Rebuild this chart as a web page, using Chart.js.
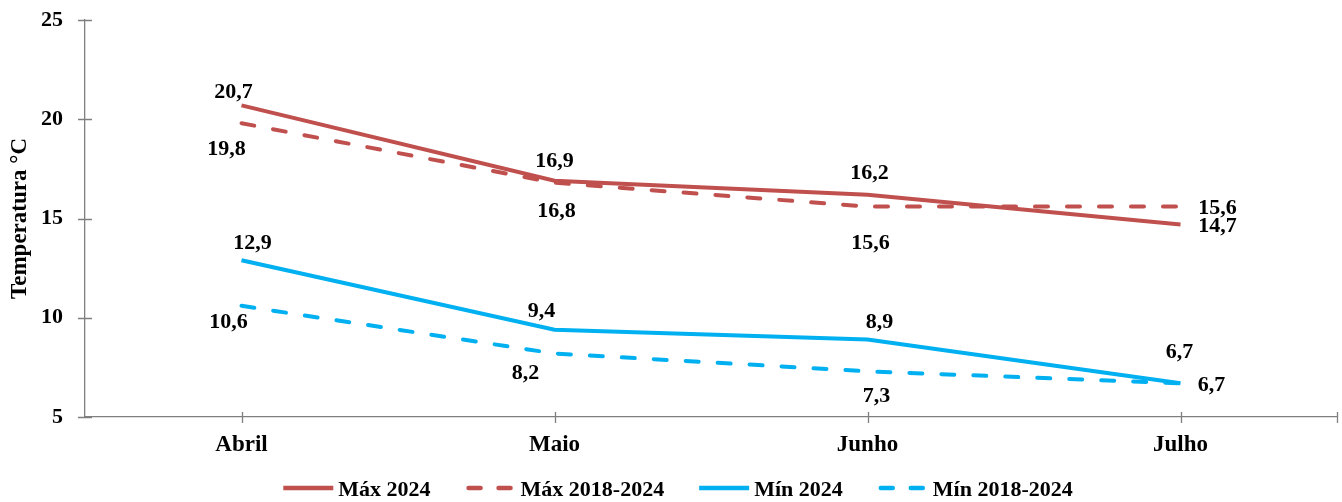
<!DOCTYPE html>
<html>
<head>
<meta charset="utf-8">
<script src="https://cdn.jsdelivr.net/npm/chart.js@4/dist/chart.umd.min.js"></script>
<style>
  html, body { margin: 0; padding: 0; background: #ffffff; }
  #wrap { width: 1342px; height: 502px; position: relative; }
</style>
</head>
<body>
<div id="wrap"><canvas id="chart" width="1342" height="502"></canvas></div>
<script>
// Monthly temperatures (°C), April–July
const months = ['Abril', 'Maio', 'Junho', 'Julho'];
const max2024 = [20.7, 16.9, 16.2, 14.7];
const maxAvg = [19.8, 16.8, 15.6, 15.6];
const min2024 = [12.9, 9.4, 8.9, 6.7];
const minAvg = [10.6, 8.2, 7.3, 6.7];
const yTicks = [5, 10, 15, 20, 25];

const RED = '#C0504D';
const BLUE = '#00B0F0';
const AXIS = '#7f7f7f';
const FONT = "'Liberation Serif', 'Times New Roman', serif";

function fmt(v) { return v.toFixed(1).replace('.', ','); }

// value label offsets (px) relative to each point
const labelOffsets = [
  [[-8, -15], [0, -21], [2, -23], [37, 0]],
  [[-15, 24], [2, 27], [3, 35], [37, 0]],
  [[11, -19], [-13, -20], [12, -19], [-1, -33]],
  [[-13, 15], [-29, 18], [9, 23], [31, 0]]
];

const valueLabels = {
  id: 'valueLabels',
  afterDatasetsDraw(chart) {
    const ctx = chart.ctx;
    ctx.save();
    ctx.font = 'bold 22px ' + FONT;
    ctx.fillStyle = '#000';
    ctx.textAlign = 'center';
    ctx.textBaseline = 'alphabetic';
    chart.data.datasets.forEach((ds, di) => {
      const meta = chart.getDatasetMeta(di);
      meta.data.forEach((pt, i) => {
        const off = labelOffsets[di][i];
        ctx.fillText(fmt(ds.data[i]), pt.x + off[0], pt.y + off[1] + 7.5);
      });
    });
    ctx.restore();
  }
};

// axis tick marks crossing the axis lines, plus the closing tick at the right end
const axisTicks = {
  id: 'axisTicks',
  afterDraw(chart) {
    const ctx = chart.ctx;
    const xs = chart.scales.x, ys = chart.scales.y;
    const area = chart.chartArea;
    ctx.save();
    ctx.strokeStyle = AXIS;
    ctx.lineWidth = 1.3;
    ctx.beginPath();
    yTicks.forEach(v => {
      const y = Math.round(ys.getPixelForValue(v)) + 0.5;
      ctx.moveTo(area.left - 7, y);
      ctx.lineTo(area.left + 7, y);
    });
    const xt = months.map((m, i) => xs.getPixelForValue(i));
    xt.push(area.right);
    xt.forEach(x => {
      const px = Math.round(x) + 0.5;
      ctx.moveTo(px, area.bottom - 5);
      ctx.lineTo(px, area.bottom + 6);
    });
    ctx.stroke();
    ctx.restore();
  }
};

// legend row under the category labels
const bottomLegend = {
  id: 'bottomLegend',
  afterDraw(chart) {
    const ctx = chart.ctx;
    const lineLen = 50, gap = 5, itemGap = 35, y = 488;
    ctx.save();
    ctx.font = 'bold 22px ' + FONT;
    const items = chart.data.datasets.map(ds => ({
      ds, w: lineLen + gap + ctx.measureText(ds.label).width
    }));
    const total = items.reduce((s, it) => s + it.w, 0) + itemGap * (items.length - 1);
    let x = 678 - total / 2;
    items.forEach(it => {
      ctx.beginPath();
      ctx.strokeStyle = it.ds.borderColor;
      ctx.lineWidth = 4.5;
      ctx.lineCap = it.ds.borderDash ? 'round' : 'butt';
      ctx.setLineDash(it.ds.borderDash ? [12, 18] : []);
      ctx.moveTo(x + (it.ds.borderDash ? 3 : 0), y);
      ctx.lineTo(x + lineLen, y);
      ctx.stroke();
      ctx.setLineDash([]);
      ctx.fillStyle = '#000';
      ctx.textAlign = 'left';
      ctx.textBaseline = 'alphabetic';
      ctx.fillText(it.ds.label, x + lineLen + gap, y + 7.5);
      x += it.w + itemGap;
    });
    ctx.restore();
  }
};

const dashed = [13, 19];

new Chart(document.getElementById('chart'), {
  type: 'line',
  data: {
    labels: months,
    datasets: [
      { label: 'Máx 2024', data: max2024, borderColor: RED, backgroundColor: RED, borderWidth: 4 },
      { label: 'Máx 2018-2024', data: maxAvg, borderColor: RED, backgroundColor: RED, borderWidth: 4,
        borderDash: dashed, borderCapStyle: 'round' },
      { label: 'Mín 2024', data: min2024, borderColor: BLUE, backgroundColor: BLUE, borderWidth: 4 },
      { label: 'Mín 2018-2024', data: minAvg, borderColor: BLUE, backgroundColor: BLUE, borderWidth: 4,
        borderDash: dashed, borderCapStyle: 'round' }
    ]
  },
  options: {
    responsive: false,
    animation: false,
    devicePixelRatio: 1,
    layout: { padding: { left: 0, right: 5, top: 20, bottom: 0 } },
    elements: { point: { radius: 0, hoverRadius: 0 }, line: { tension: 0, fill: false } },
    plugins: { legend: { display: false }, tooltip: { enabled: false } },
    scales: {
      x: {
        offset: true,
        grid: { display: false, drawTicks: true, tickLength: 14 },
        border: { display: true, color: AXIS, width: 1.3 },
        ticks: { color: '#000', padding: 0, font: { family: FONT, size: 23, weight: 'bold' } },
        afterFit(scale) { scale.height = 85; }
      },
      y: {
        min: 5, max: 25,
        afterBuildTicks(scale) { scale.ticks = yTicks.map(v => ({ value: v })); },
        grid: { display: false, drawTicks: true, tickLength: 22 },
        border: { display: true, color: AXIS, width: 1.3 },
        ticks: { color: '#000', padding: 0, font: { family: FONT, size: 22, weight: 'bold' } },
        title: {
          display: true, text: 'Temperatura °C', color: '#000',
          font: { family: FONT, size: 23, weight: 'bold' },
          padding: { top: 6, bottom: 0 }
        },
        afterFit(scale) { scale.width = 85; }
      }
    }
  },
  plugins: [valueLabels, axisTicks, bottomLegend]
});
</script>
</body>
</html>
